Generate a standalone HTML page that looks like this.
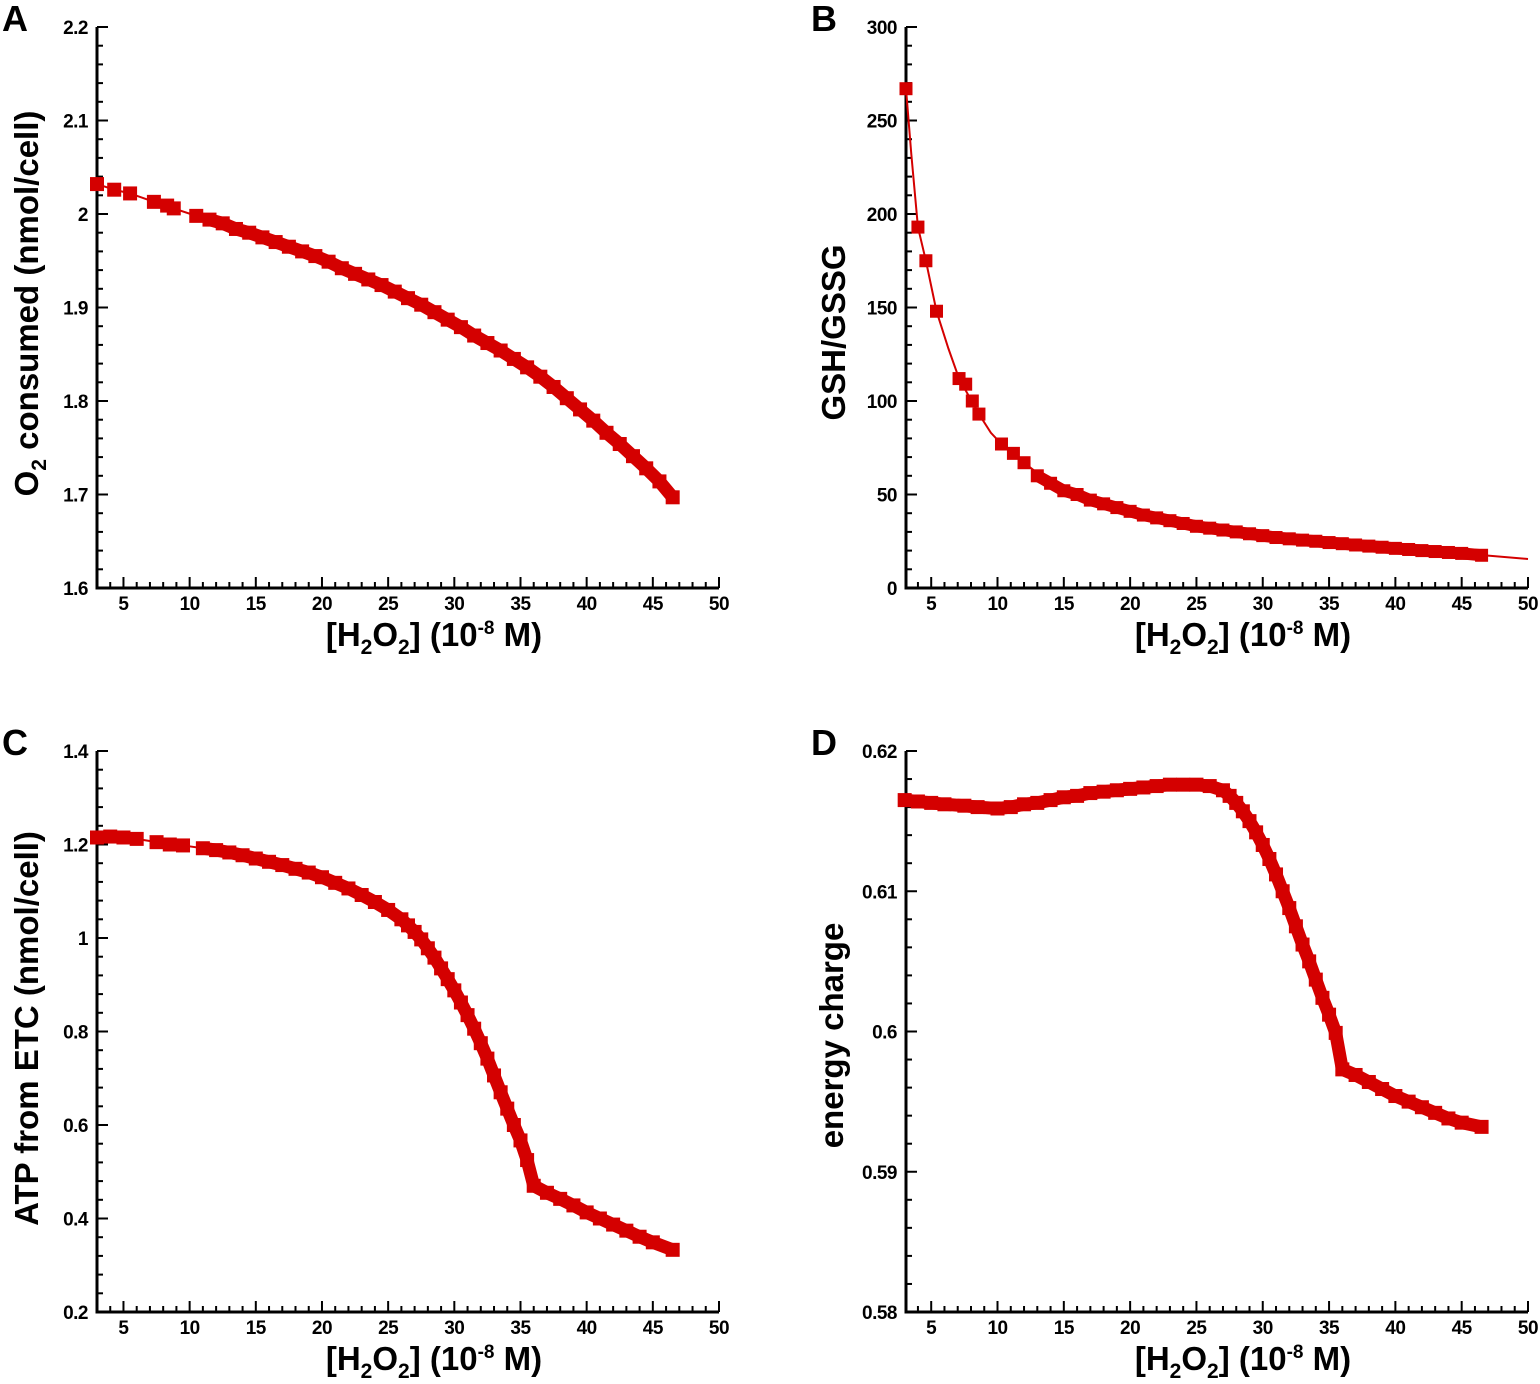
<!DOCTYPE html>
<html><head><meta charset="utf-8"><style>
html,body{margin:0;padding:0;background:#fff}
svg{display:block}
text{font-family:"Liberation Sans",Arial,sans-serif;font-weight:bold;fill:#000}
</style></head><body>
<svg id="fig" width="1540" height="1384" viewBox="0 0 1540 1384"></svg>
<script>
// Panel A data
const xA=[3,4.3,5.5,7.3,8.3,8.8,10.5,11.5,12.5,13.5,14.5,15.5,16.5,17.5,18.5,19.5,20.5,21.5,22.5,23.5,24.5,25.5,26.5,27.5,28.5,29.5,30.5,31.5,32.5,33.5,34.5,35.5,36.5,37.5,38.5,39.5,40.5,41.5,42.5,43.5,44.5,45.5,46.5];
const yA=[2.032,2.026,2.022,2.013,2.009,2.006,1.998,1.994,1.990,1.984,1.980,1.975,1.970,1.965,1.960,1.955,1.949,1.942,1.936,1.930,1.924,1.917,1.910,1.903,1.895,1.887,1.879,1.870,1.862,1.854,1.845,1.836,1.826,1.815,1.803,1.791,1.779,1.766,1.754,1.741,1.728,1.714,1.697];
// Panel B data
const xB=[3.1,4,4.6,5.4,7.1,7.6,8.1,8.6,10.3,11.2,12,13,14,15,16,17,18,19,20,21,22,23,24,25,26,27,28,29,30,31,32,33,34,35,36,37,38,39,40,41,42,43,44,45,46.5];
const yB=[267,193,175,148,112,109,100,93,77,72,67,60,56,52,50,47,45,43,41,39,37.5,36,34.5,33,32,31,30,29,28,27,26.3,25.6,25,24.3,23.7,23,22.4,21.8,21.2,20.6,20,19.5,19,18.5,17.5];
const xBline=[3.1,3.5,4,4.6,5.4,6.3,7.1,8.6,9.5,10.3,12,14,17,20,25,30,35,40,45,50];
const yBline=[267,232,193,175,148,128,112,93,83,77,67,56,47,41,33,28,24.3,21.2,18.5,15.5];
// Panel C data
const xC=[3,4,5,6,7.5,8.5,9.5,11,12,13,14,15,16,17,18,19,20,21,22,23,24,25,26,26.5,27,27.5,28,28.5,29,29.5,30,30.5,31,31.5,32,32.5,33,33.5,34,34.5,35,35.5,36,37,38,39,40,41,42,43,44,45,46.5];
const yC=[1.215,1.217,1.215,1.212,1.205,1.200,1.198,1.192,1.188,1.183,1.177,1.170,1.163,1.156,1.148,1.140,1.130,1.118,1.106,1.092,1.077,1.060,1.040,1.027,1.013,0.997,0.978,0.958,0.935,0.912,0.888,0.862,0.835,0.806,0.775,0.742,0.706,0.670,0.635,0.600,0.567,0.525,0.470,0.455,0.442,0.428,0.413,0.400,0.387,0.374,0.361,0.349,0.333];
// Panel D data
const xD=[3,4,5,6,7.5,8.5,10,11,12,13,14,15,16,17,18,19,20,21,22,23,24,25,26,27,27.5,28,28.5,29,29.5,30,30.5,31,31.5,32,32.5,33,33.5,34,34.5,35,35.5,36,37,38,39,40,41,42,43,44,45,46.5];
const yD=[0.6165,0.6164,0.6163,0.6162,0.6161,0.6160,0.6159,0.6160,0.6162,0.6163,0.6165,0.6167,0.6168,0.6170,0.6171,0.6172,0.6173,0.6174,0.6175,0.6176,0.6176,0.6176,0.6175,0.6172,0.6168,0.6163,0.6157,0.6150,0.6142,0.6133,0.6123,0.6112,0.6100,0.6088,0.6075,0.6062,0.6050,0.6037,0.6024,0.6012,0.5999,0.5973,0.5969,0.5964,0.5959,0.5954,0.5950,0.5946,0.5942,0.5938,0.5935,0.5932];
const xTicks=[5,10,15,20,25,30,35,40,45,50];
const ticksA=["1.6","1.7","1.8","1.9","2","2.1","2.2"];
const ticksB=["0","50","100","150","200","250","300"];
const ticksC=["0.2","0.4","0.6","0.8","1","1.2","1.4"];
const ticksD=["0.58","0.59","0.6","0.61","0.62"];

const NS="http://www.w3.org/2000/svg";
const svg=document.getElementById('fig');
function mk(tag,attrs,parent){const e=document.createElementNS(NS,tag);for(const k in attrs)e.setAttribute(k,attrs[k]);(parent||svg).appendChild(e);return e;}
const RED="#d40000";

function panel(p){
  const g=mk('g',{});
  
  
  const x0=p.ax, x1=p.ax+622, yTop=p.top, yBot=p.top+561;
  const xmin=p.xmin, xmax=50;
  const X=v=>x0+(v-xmin)/(xmax-xmin)*(x1-x0);
  const ymin=parseFloat(p.ticks[0]), ymax=parseFloat(p.ticks[p.ticks.length-1]);
  const Y=v=>yBot-(v-ymin)/(ymax-ymin)*(yBot-yTop);
  const ax=mk('path',{d:`M${x0} ${yTop}V${yBot}H${x1}`,stroke:'#000','stroke-width':3,fill:'none'},g);
  
  
  const n=p.ticks.length-1, step=(ymax-ymin)/n;
  for(let i=0;i<=n*5;i++){
    const v=ymin+i*step/5, yy=Y(v), major=i%5===0;
    mk('line',{x1:x0,x2:x0+(major?11:6),y1:yy,y2:yy,stroke:'#000','stroke-width':2},g);
  }
  p.ticks.forEach((t,i)=>{
    const tx=mk('text',{x:x0-9,y:Y(parseFloat(t))+7,'text-anchor':'end','font-size':19,'letter-spacing':'-0.5'},g);
    tx.textContent=t;
    
    
  });
  for(let v=Math.ceil(xmin);v<=50;v++){
    const major=v%5===0;
    mk('line',{x1:X(v),x2:X(v),y1:yBot,y2:yBot-(major?11:6),stroke:'#000','stroke-width':2},g);
  }
  xTicks.forEach(t=>{
    const tx=mk('text',{x:X(t),y:yBot+22,'text-anchor':'middle','font-size':19,'letter-spacing':'-0.5'},g);
    tx.textContent=t;
    
    
  });
  const xt=mk('text',{x:(x0+x1)/2+26,y:yBot+58,'text-anchor':'middle','font-size':33},g);
  xt.innerHTML='[H<tspan font-size="21" dy="8">2</tspan><tspan dy="-8">O</tspan><tspan font-size="21" dy="8">2</tspan><tspan dy="-8">] (10</tspan><tspan font-size="19" dy="-12">-8</tspan><tspan dy="12"> M)</tspan>';
  
  
  const cy=(yTop+yBot)/2;
  const yt=mk('text',{x:0,y:0,'text-anchor':'middle','font-size':p.ytfs||33,transform:`translate(${p.ytx},${cy+p.ytdy}) rotate(-90)`},g);
  yt.innerHTML=p.ytitle;
  
  
  const pl=mk('text',{x:p.ax-95,y:p.top+4,'font-size':36},g);
  pl.textContent=p.letter;
  
  
  const lx=p.lx||p.xs, ly=p.ly||p.ys;
  const ln=mk('polyline',{points:lx.map((v,i)=>X(v)+','+Y(ly[i])).join(' '),stroke:RED,'stroke-width':2,fill:'none'},g);
  
  
  const ds=p.dense;
  const bx=p.xs.slice(ds), by=p.ys.slice(ds);
  const band=mk('polyline',{points:bx.map((v,i)=>X(v)+','+Y(by[i])).join(' '),stroke:RED,'stroke-width':p.ms-1,fill:'none','stroke-linejoin':'bevel'},g);
  
  
  const s=p.ms;
  p.xs.forEach((v,i)=>{
    const r=mk('rect',{x:X(v)-s/2,y:Y(p.ys[i])-s/2,width:s,height:s,fill:RED},g);
    
    
  });
}
panel({name:'panel-a',letter:'A',ax:97,top:27,xmin:3,ticks:ticksA,xs:xA,ys:yA,ms:14,dense:7,ytx:38,ytdy:-4,
  ytitle:'O<tspan font-size="21" dy="8">2</tspan><tspan dy="-8"> consumed (nmol/cell)</tspan>'});
panel({name:'panel-b',letter:'B',ax:906,top:27,xmin:3.1,ticks:ticksB,xs:xB,ys:yB,lx:xBline,ly:yBline,ms:13,dense:11,ytx:845,ytdy:25,
  ytitle:'GSH/GSSG'});
panel({name:'panel-c',letter:'C',ax:97,top:751,xmin:3,ticks:ticksC,xs:xC,ys:yC,ms:14,dense:7,ytx:38,ytdy:-3,
  ytitle:'ATP from ETC (nmol/cell)'});
panel({name:'panel-d',letter:'D',ax:906,top:751,xmin:3.1,ticks:ticksD,xs:xD,ys:yD,ms:14,dense:0,ytx:843,ytdy:4,
  ytitle:'energy charge'});
</script>
</body></html>
